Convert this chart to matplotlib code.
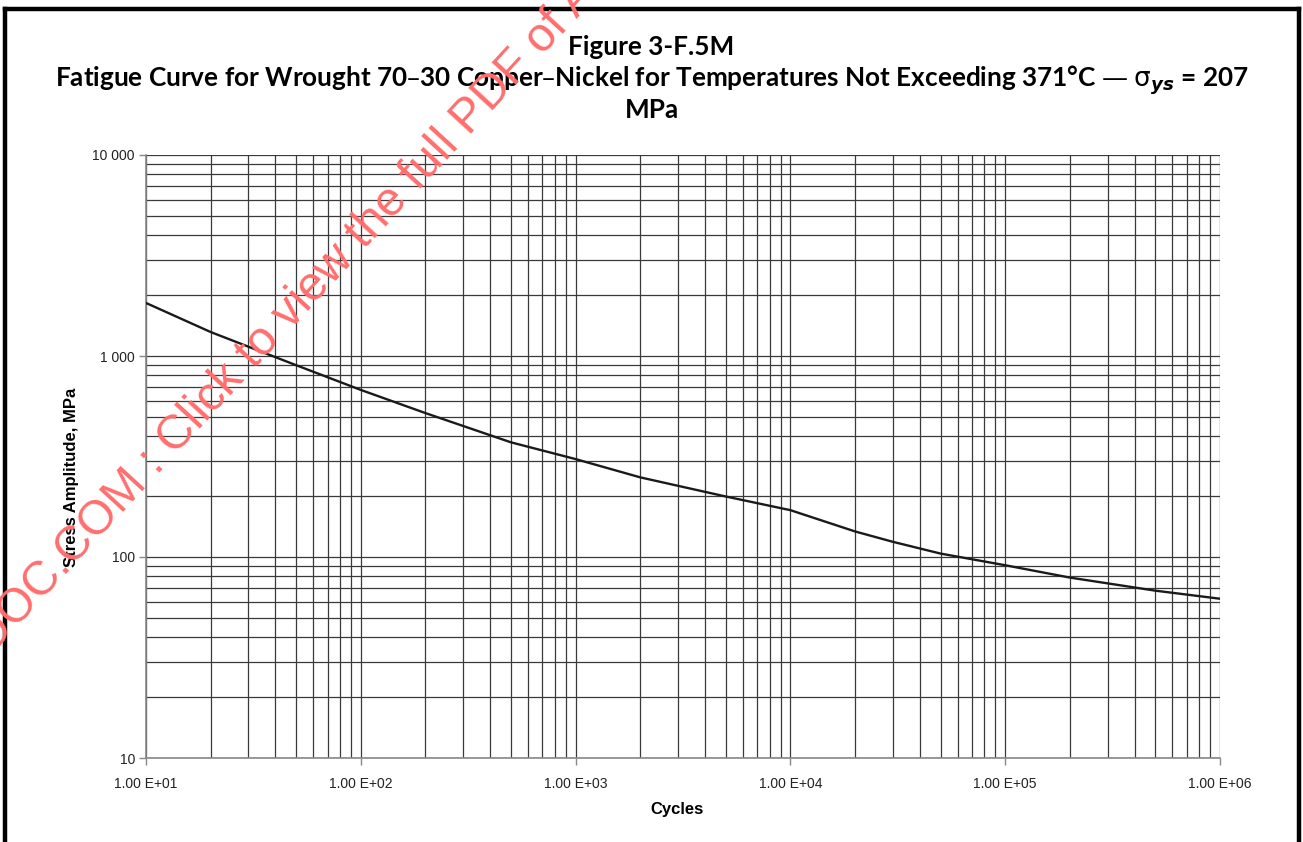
import matplotlib
matplotlib.use("Agg")
import matplotlib.pyplot as plt
from matplotlib.lines import Line2D
from matplotlib.ticker import FixedLocator, FixedFormatter, NullFormatter, LogLocator

# values
cycles = [10, 20, 50, 100, 200, 500, 1e3, 2e3, 5e3, 1e4, 2e4, 3e4, 5e4, 1e5, 2e5, 5e5, 1e6]
stress = [1836, 1316, 900, 678, 520, 372, 307, 249, 200, 171, 134, 119, 104, 91, 79, 68, 62]

x_major = [1e1, 1e2, 1e3, 1e4, 1e5, 1e6]
x_labels = ["1.00 E+01", "1.00 E+02", "1.00 E+03", "1.00 E+04", "1.00 E+05", "1.00 E+06"]
y_major = [10, 100, 1000, 10000]
y_labels = ["10", "100", "1 000", "10 000"]

title_lines = [
    "Figure 3-F.5M",
    r"Fatigue Curve for Wrought 70–30 Copper–Nickel for Temperatures Not Exceeding 371°C — $\mathrm{\sigma}_{\mathbfit{ys}}$ = 207",
    "MPa",
]

plt.rcParams['font.family'] = ['Liberation Sans', 'DejaVu Sans']

fig = plt.figure(figsize=(13.03, 8.42), dpi=100)
ax = fig.add_axes([146 / 1303, 1 - 758 / 842, (1220 - 146) / 1303, (758 - 155) / 842])

ax.plot(cycles, stress, color='#1a1a1a', lw=1.7, zorder=3)
ax.set_xscale('log')
ax.set_yscale('log')
ax.set_xlim(1e1, 1e6)
ax.set_ylim(10, 10000)

ax.xaxis.set_major_locator(FixedLocator(x_major))
ax.xaxis.set_major_formatter(FixedFormatter(x_labels))
ax.yaxis.set_major_locator(FixedLocator(y_major))
ax.yaxis.set_major_formatter(FixedFormatter(y_labels))
ax.xaxis.set_minor_locator(LogLocator(base=10, subs=range(2, 10)))
ax.yaxis.set_minor_locator(LogLocator(base=10, subs=range(2, 10)))
ax.xaxis.set_minor_formatter(NullFormatter())
ax.yaxis.set_minor_formatter(NullFormatter())

ax.grid(True, which='both', color='#3a3a3a', lw=0.9)
ax.tick_params(which='major', direction='out', length=5, width=1, color='#888888',
               labelsize=10, labelcolor='#222222')
ax.tick_params(axis='x', which='major', pad=9)
ax.tick_params(axis='y', which='major', pad=3)
ax.tick_params(which='minor', length=0)
for side in ['top', 'right']:
    ax.spines[side].set_visible(False)
for side in ['left', 'bottom']:
    ax.spines[side].set_color('#888888')
    ax.spines[side].set_linewidth(1.2)

ax.set_xlabel("Cycles", fontsize=12, fontweight='bold')
ax.set_ylabel("Stress Amplitude, MPa", fontsize=12, fontweight='bold')
ax.xaxis.set_label_coords((677 - 146) / 1074, (758 - 802) / 603)
ax.yaxis.set_label_coords((79 - 146) / 1074, (758 - 477) / 603)

title_y = [1 - 47 / 842, 1 - 80 / 842, 1 - 110 / 842]
for txt, yy in zip(title_lines, title_y):
    fig.text(0.5, yy, txt, ha='center', va='center', fontsize=18.8, fontweight='bold',
             family=['Lato', 'DejaVu Sans'])

# page frame
lw_frame = 3.2
fig.add_artist(Line2D([5 / 1303, 5 / 1303], [-0.1, 1 - 9 / 842], color='black', lw=lw_frame,
                      transform=fig.transFigure))
fig.add_artist(Line2D([5 / 1303, 1299 / 1303], [1 - 9 / 842, 1 - 9 / 842], color='black', lw=lw_frame,
                      transform=fig.transFigure))
fig.add_artist(Line2D([1299 / 1303, 1299 / 1303], [-0.1, 1 - 9 / 842], color='black', lw=lw_frame,
                      transform=fig.transFigure))

# watermark
ang = 47.4
anchor = (175 / 1303, 1 - 456 / 842)
fig.text(anchor[0], anchor[1], "DOC.COM : ", rotation=ang, rotation_mode='anchor',
         ha='right', va='baseline', fontsize=34.5, color='#ff6e6e', zorder=10)
fig.text(anchor[0], anchor[1], "Click to view the full PDF of A", rotation=ang, rotation_mode='anchor',
         ha='left', va='baseline', fontsize=34.5, color='#ff6e6e', zorder=10)

fig.savefig("out.png", dpi=100)
